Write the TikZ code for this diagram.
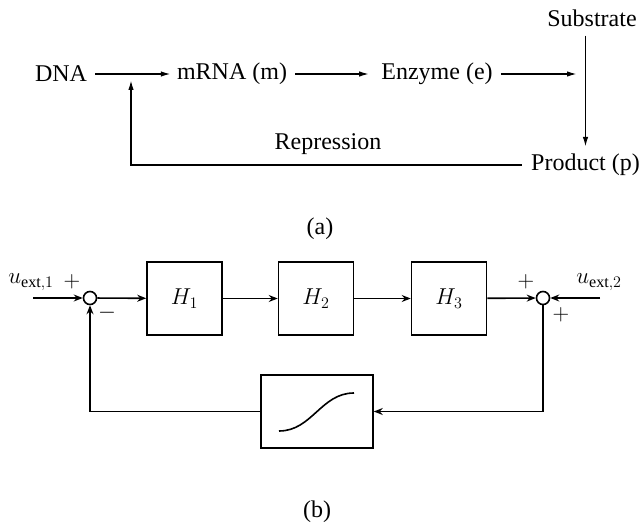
\RequirePackage{fix-cm}
\documentclass[tikz,border=0pt]{standalone}
\usepackage{fontspec}
\setmainfont{Liberation Serif}
\usetikzlibrary{arrows.meta}
\begin{document}
\begin{tikzpicture}[x=1pt,y=-1pt,
  txt/.style={font=\fontsize{24}{27}\selectfont, inner sep=0pt},
  mtxt/.style={font=\fontsize{23}{26}\selectfont, inner sep=0pt},
  conn/.style={line width=1.6pt},
  arr/.style={conn,-{Latex[length=10pt,width=5.5pt]}},
  barr/.style={conn,-{Stealth[length=9pt,width=7pt,inset=3pt]}},
  blk/.style={draw,line width=1.6pt,minimum width=75pt,minimum height=73pt,inner sep=0pt,font=\fontsize{23}{26}\selectfont},
  sumc/.style={draw,circle,line width=1.6pt,minimum size=13pt,inner sep=0pt}]
\useasboundingbox (0,0) rectangle (641,527);
% ---- (a)
\node[txt] (dna) at (61,74) {DNA};
\node[txt] (mrna) at (232,74) {mRNA (m)};
\node[txt] (enz) at (437,74) {Enzyme (e)};
\node[txt] (sub) at (592,18) {Substrate};
\node[txt] (prod) at (585.5,165) {Product (p)};
\node[txt] (rep) at (328,144) {Repression};
\node[txt] (la) at (320,229) {(a)};
\coordinate (e2) at (577,74);
\coordinate (j) at (131,80);
\draw[arr] ([xshift=8pt]dna.east) -- ([xshift=-6pt]mrna.west);
\draw[arr] ([xshift=8pt]mrna.east) -- ([xshift=-12pt]enz.west);
\draw[arr] ([xshift=8pt]enz.east) -- (e2);
\draw[arr] ([yshift=-9pt]prod.north |- sub.south) -- ([yshift=7pt]prod.north);
\draw[arr] ([xshift=-9pt]prod.west) -| (j);
% ---- (b)
\node[sumc] (s1) at (90,298) {};
\node[sumc] (s2) at (543,298) {};
\node[blk] (h1) at (184.5,298.5) {$H_1$};
\node[blk] (h2) at (316,298.5) {$H_2$};
\node[blk] (h3) at (449,298.5) {$H_3$};
\node[blk,minimum width=112pt] (sat) at (317,411.5) {};
\coordinate (in1) at (33,298);
\coordinate (in2) at (600,298);
\coordinate (c2) at (543,411.5);
\coordinate (c1) at (90,411.5);
\node[mtxt] (u1) at (31,282) {$u_{\mathrm{ext},1}$};
\node[mtxt] (p1) at (72,282) {$+$};
\node[mtxt] (m1) at (107,313) {$-$};
\node[mtxt] (p2) at (526,282) {$+$};
\node[mtxt] (u2) at (599,282) {$u_{\mathrm{ext},2}$};
\node[mtxt] (p3) at (561,315) {$+$};
\node[txt] (lb) at (317,512) {(b)};
\draw[barr] (in1) -- (s1);
\draw[barr] (s1) -- (h1);
\draw[barr] (h1) -- (h2);
\draw[barr] (h2) -- (h3);
\draw[barr] (h3) -- (s2);
\draw[barr] (in2) -- (s2);
\draw[barr] (s2) -- (c2) -- (sat);
\draw[barr] (sat) -- (c1) -- (s1);
\draw[conn] (279,431) .. controls (312,431) and (321,393) .. (354,393);
\end{tikzpicture}
\end{document}
